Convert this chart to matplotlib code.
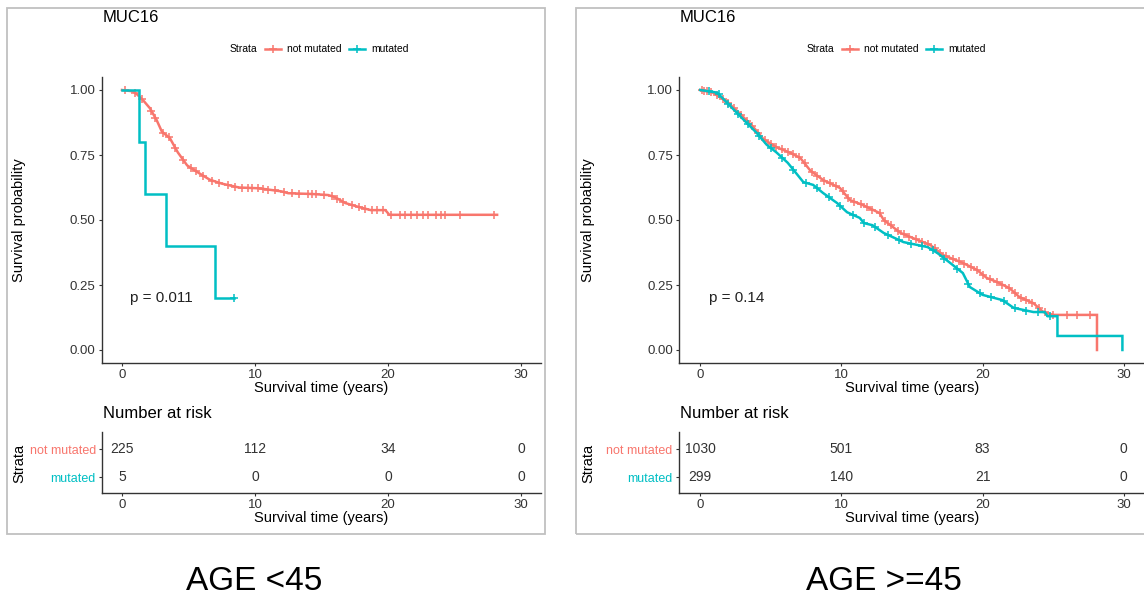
import numpy as np
import matplotlib.pyplot as plt
from matplotlib.lines import Line2D
from matplotlib.patches import Rectangle

plt.rcParams['font.family'] = ['Liberation Sans', 'DejaVu Sans']

RED = '#F8766D'
TEAL = '#00BFC4'
W, H = 1144, 602

gene = 'MUC16'
strata = ['not mutated', 'mutated']
risk_times = [0, 10, 20, 30]

# KM curves as traced vertices (time, survival); drops that are steep steps
# are given as two vertices at the same time

# ---- AGE <45 ----
young_nm_t = [0, 0.8, 1.1, 1.6, 2.1, 2.6, 3.0, 3.6, 4.2, 4.9, 5.8, 6.6, 7.5, 8.8,
              10.3, 12.0, 12.5, 14.3, 15.5, 16.0, 16.8, 17.8, 18.7, 19.8, 20.1, 28.2]
young_nm_s = [1.0, 0.995, 0.985, 0.96, 0.93, 0.885, 0.84, 0.815, 0.76, 0.71, 0.68, 0.655, 0.64, 0.625,
              0.622, 0.61, 0.603, 0.600, 0.596, 0.588, 0.565, 0.55, 0.538, 0.538, 0.52, 0.52]
young_nm_cens = [0.2, 1.0, 1.5, 2.2, 2.5, 3.1, 3.5, 4.0, 4.6, 5.2, 5.6, 6.1, 6.8, 7.3, 8.0,
                 8.5, 9.0, 9.5, 9.8, 10.2, 10.6, 11.0, 11.5, 12.2, 12.8, 13.3, 14.0, 14.3,
                 14.6, 15.2, 15.8, 16.2, 16.6, 17.3, 17.8, 18.3, 18.8, 19.2, 19.6, 20.2,
                 20.9, 21.3, 21.7, 22.2, 22.6, 23.0, 23.6, 24.0, 24.3, 25.4, 28.0]
young_mu_t = [0, 1.3, 1.3, 1.7, 1.7, 3.3, 3.3, 7.0, 7.0, 8.4]
young_mu_s = [1.0, 1.0, 0.8, 0.8, 0.6, 0.6, 0.4, 0.4, 0.2, 0.2]
young_mu_cens = [8.4]
young_risk = [[225, 112, 34, 0], [5, 0, 0, 0]]
young_p = 'p = 0.011'

# ---- AGE >=45 ----
old_nm_t = [0, 0.9, 1.9, 2.8, 3.8, 4.5, 5.4, 6.4, 7.1, 7.8, 8.7, 9.9, 10.6, 11.5,
            12.7, 13.0, 14.2, 15.4, 16.3, 17.2, 18.6, 19.6, 20.3, 21.0, 21.9, 22.6,
            23.6, 24.3, 25.0, 28.1, 28.1]
old_nm_s = [1.0, 0.99, 0.955, 0.91, 0.855, 0.81, 0.78, 0.758, 0.738, 0.69, 0.654, 0.623, 0.577, 0.558,
            0.527, 0.5, 0.45, 0.423, 0.404, 0.365, 0.335, 0.308, 0.277, 0.262, 0.238, 0.204,
            0.18, 0.146, 0.135, 0.135, 0.0]
old_nm_cens = [0.1, 0.3, 0.5, 0.8, 1.2, 1.6, 2.0, 2.4, 2.9, 3.3, 3.7, 4.1, 4.6, 5.0, 5.4,
               5.8, 6.2, 6.6, 7.0, 7.4, 7.9, 8.3, 8.8, 9.2, 9.6, 10.1, 10.5, 10.9, 11.4,
               11.8, 12.2, 12.7, 13.1, 13.5, 14.0, 14.4, 14.8, 15.3, 15.7, 16.1, 16.6,
               17.0, 17.4, 17.9, 18.3, 18.7, 19.2, 19.6, 20.0, 20.5, 21.0, 21.4, 21.9,
               22.3, 22.7, 23.1, 23.5, 24.0, 24.4, 25.0, 26.0, 26.7, 27.6]
old_mu_t = [0, 1.2, 2.1, 3.0, 4.0, 4.7, 5.4, 6.2, 6.9, 7.3, 8.0, 8.7, 9.7, 10.4,
            11.3, 11.6, 12.2, 13.0, 14.4, 16.1, 16.8, 17.7, 18.6, 19.1, 20.0, 21.4,
            22.2, 23.6, 24.4, 24.6, 25.3, 25.3, 29.9, 29.9]
old_mu_s = [1.0, 0.99, 0.94, 0.89, 0.835, 0.79, 0.76, 0.72, 0.673, 0.646, 0.635, 0.604, 0.565, 0.53,
            0.508, 0.488, 0.48, 0.45, 0.415, 0.396, 0.373, 0.335, 0.296, 0.242, 0.212, 0.192,
            0.162, 0.146, 0.146, 0.13, 0.13, 0.054, 0.054, 0.0]
old_mu_cens = [0.6, 1.3, 2.0, 2.7, 3.4, 4.2, 5.0, 5.8, 6.6, 7.5, 8.3, 9.1, 9.9, 10.8,
               11.6, 12.4, 13.3, 14.1, 14.9, 15.7, 16.5, 17.3, 18.2, 19.0, 19.8, 20.6,
               21.5, 22.3, 23.1, 23.9, 24.8]
old_risk = [[1030, 501, 83, 0], [299, 140, 21, 0]]
old_p = 'p = 0.14'


def fig_rect(x0, y0, x1, y1):
    return [x0 / W, 1 - y1 / H, (x1 - x0) / W, (y1 - y0) / H]


def style_axis(ax):
    for side in ['top', 'right']:
        ax.spines[side].set_visible(False)
    for side in ['left', 'bottom']:
        ax.spines[side].set_color('#333333')
        ax.spines[side].set_linewidth(1.0)
    ax.tick_params(length=2.5, width=0.8, color='#333333', labelcolor='#333333',
                   labelsize=9.5, pad=2)
    ax.set_xlim(-1.5, 31.5)
    ax.set_xticks(risk_times)


def km_panel(x0, x1, px_left, curves, risk, pval, age_label, box):
    fig.add_artist(Rectangle((box[0] / W, 1 - box[3] / H), (box[2] - box[0]) / W,
                             (box[3] - box[1]) / H, transform=fig.transFigure,
                             fill=False, edgecolor='#c0c0c0', lw=1.3))

    ax = fig.add_axes(fig_rect(x0, 77, x1, 363))
    style_axis(ax)
    for (t, s, cens, col) in curves:
        ax.plot(t, s, color=col, lw=1.8, solid_joinstyle='miter')
        # censor ticks sit on the curve at their time
        cy = np.interp(cens, t, s)
        ax.plot(cens, cy, ls='none', marker='+', ms=6, mew=1.1, color=col)
    ax.set_ylim(-0.05, 1.05)
    ax.set_yticks([0, 0.25, 0.5, 0.75, 1.0])
    ax.set_yticklabels(['0.00', '0.25', '0.50', '0.75', '1.00'])
    ax.set_xlabel('Survival time (years)', fontsize=10.5, labelpad=0)
    ax.text(0.6, 0.2, pval, fontsize=11, ha='left', va='center', color='#222222')
    fig.text((px_left + 12) / W, 1 - 220 / H, 'Survival probability', rotation=90,
             fontsize=10.5, ha='center', va='center')
    fig.text((x0 + 1) / W, 1 - 18 / H, gene, fontsize=12, ha='left', va='center')

    # legend row
    lx = x0 + 128
    ly = 1 - 49 / H
    fig.text(lx / W, ly, 'Strata', fontsize=7.5, ha='left', va='center')
    pos = lx + 35
    for name, col in zip(strata, [RED, TEAL]):
        fig.add_artist(Line2D([pos / W, (pos + 16) / W], [ly, ly], transform=fig.transFigure,
                              color=col, lw=1.8))
        fig.add_artist(Line2D([(pos + 8) / W], [ly], transform=fig.transFigure, color=col,
                              marker='+', ms=6, mew=1.1))
        fig.text((pos + 22) / W, ly, name, fontsize=7.5, ha='left', va='center')
        pos += 22 + (62 if name == 'not mutated' else 0)

    # risk table
    rt = fig.add_axes(fig_rect(x0, 432, x1, 493))
    style_axis(rt)
    rt.set_ylim(0.45, 2.6)
    rt.set_yticks([2, 1])
    rt.set_yticklabels(strata, fontsize=9)
    for lab, col in zip(rt.get_yticklabels(), [RED, TEAL]):
        lab.set_color(col)
    for row, yv in zip(risk, [2, 1]):
        for tv, n in zip(risk_times, row):
            rt.text(tv, yv, str(n), ha='center', va='center', fontsize=10, color='#333333')
    rt.set_xlabel('Survival time (years)', fontsize=10.5, labelpad=0)
    fig.text((x0 + 1) / W, 1 - 414 / H, 'Number at risk', fontsize=12, ha='left', va='center')
    fig.text((px_left + 12) / W, 1 - 463 / H, 'Strata', rotation=90, fontsize=10.5,
             ha='center', va='center')

    fig.text(age_label[1] / W, 1 - 582 / H, age_label[0], fontsize=24,
             ha='center', va='center')


fig = plt.figure(figsize=(W / 100, H / 100), dpi=100)

km_panel(102, 541, 7,
         [(young_nm_t, young_nm_s, young_nm_cens, RED),
          (young_mu_t, young_mu_s, young_mu_cens, TEAL)],
         young_risk, young_p, ('AGE <45', 254), (7, 8, 545, 534))

km_panel(679, 1145, 576,
         [(old_nm_t, old_nm_s, old_nm_cens, RED),
          (old_mu_t, old_mu_s, old_mu_cens, TEAL)],
         old_risk, old_p, ('AGE >=45', 884), (576, 8, 1150, 534))

fig.savefig('out.png', dpi=100)
